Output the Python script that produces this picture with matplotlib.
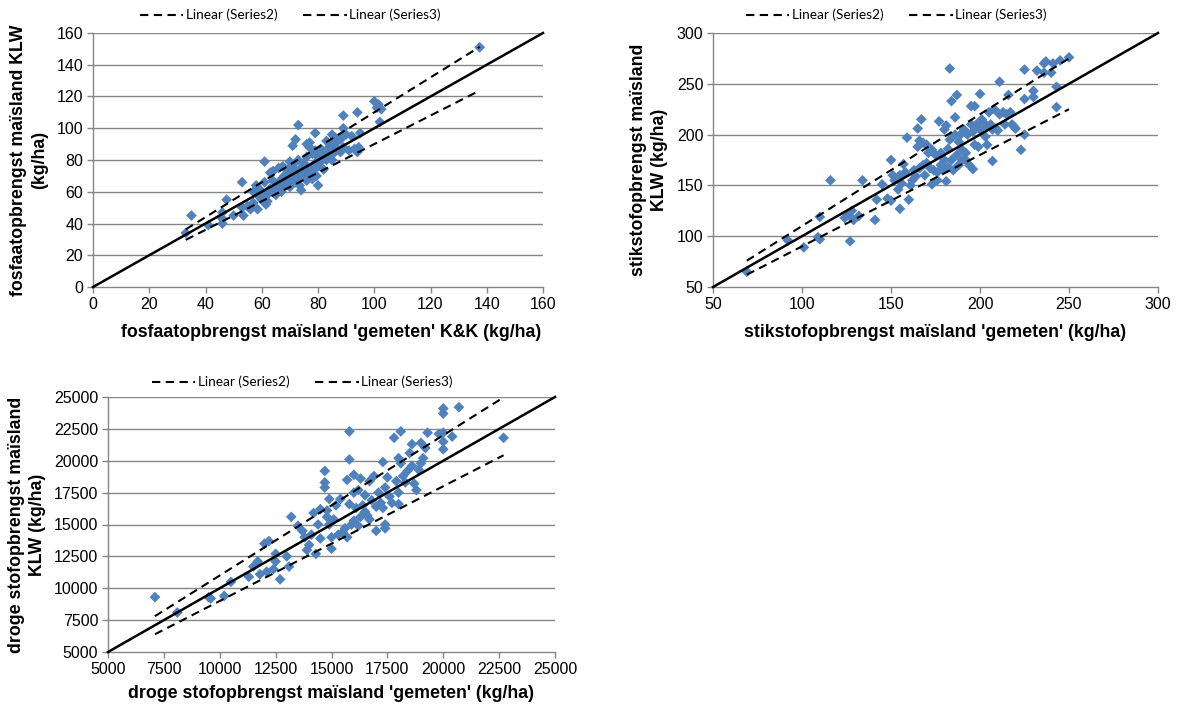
import matplotlib
matplotlib.use("Agg")
import matplotlib.pyplot as plt
from matplotlib.lines import Line2D

# ---------------- data ----------------
p_x = [137.5, 33, 35, 41, 46, 46, 46, 47.5, 50, 53, 53.5, 53, 55, 56, 57, 57, 58, 58.5, 59, 59, 60, 60,
       61, 61, 61.5, 62, 62, 63, 63, 64, 64, 64, 65, 65, 66, 66, 67, 67, 67, 67.5, 68, 68, 69, 69, 70, 70, 70,
       70.5, 71, 71, 71, 72, 72, 72, 72.5, 73, 73, 73, 73.5, 74, 74, 75, 75, 75, 76, 76, 76, 76, 77, 77, 77, 77,
       78, 78, 78, 79, 79, 79, 79.5, 80, 80, 80, 81, 81, 82, 82, 83, 83, 84, 84, 85, 85, 85, 86, 86, 87, 87, 88,
       88, 89, 89, 89, 90, 91, 92, 93, 94, 94, 94.5, 95, 100, 101, 101.5, 102, 102.5]
p_y = [151, 34, 45, 39, 47, 40, 43, 55, 45, 66, 45, 50, 51, 49, 53, 60, 64, 49, 62, 57, 55, 60,
       79, 66, 52, 54, 58, 62, 72, 73, 67, 60, 58, 63, 75, 65, 60, 62, 68, 76, 64, 70, 66, 74, 79, 72, 63,
       67, 89, 77, 70, 93, 74, 66, 71, 102, 80, 68, 64, 61, 75, 78, 73, 70, 90, 82, 67, 71, 91, 88, 75, 72,
       84, 73, 68, 97, 86, 78, 70, 64, 82, 76, 87, 79, 85, 74, 92, 80, 88, 83, 96, 90, 80, 85, 94, 87, 92, 85,
       93, 108, 100, 88, 96, 86, 95, 87, 110, 85, 88, 97, 117, 113, 115, 104, 112]

n_x = [69, 92, 101, 109, 110, 110, 116, 124, 126, 127, 128, 129, 132, 134, 141, 142, 145, 148, 150, 150,
       151, 152, 154, 155, 155, 156, 157, 158, 159, 160, 161, 162, 163, 164, 165, 165, 166, 166, 167, 168,
       168, 169, 170, 170, 171, 172, 173, 173, 174, 175, 176, 176, 177, 178, 178, 179, 180, 180, 181, 181,
       182, 182, 183, 183, 184, 184, 185, 186, 186, 187, 187, 188, 188, 189, 190, 190, 191, 192, 192, 193,
       194, 195, 195, 196, 196, 197, 197, 198, 199, 200, 200, 201, 202, 203, 204, 204, 205, 206, 207, 207,
       208, 209, 210, 211, 211, 213, 214, 215, 216, 217, 218, 219, 220, 225, 225, 225, 223, 230, 230, 232,
       236, 236, 237, 240, 241, 243, 243, 245, 250]
n_y = [65, 96, 89, 99, 119, 97, 155, 118, 121, 95, 125, 116, 120, 155, 116, 136, 151, 137, 175, 135,
       160, 155, 146, 127, 160, 152, 171, 163, 197, 136, 150, 155, 165, 159, 206, 188, 194, 167, 215, 170,
       192, 160, 190, 172, 182, 167, 151, 185, 165, 180, 155, 163, 213, 182, 170, 165, 205, 175, 209, 154,
       186, 168, 265, 195, 233, 175, 165, 217, 200, 239, 180, 193, 170, 200, 175, 185, 205, 182, 175, 200,
       170, 228, 210, 166, 203, 228, 190, 210, 188, 240, 205, 215, 212, 198, 208, 190, 222, 210, 174, 205,
       225, 206, 204, 252, 220, 222, 210, 220, 239, 222, 210, 208, 206, 264, 235, 200, 185, 243, 237, 263,
       270, 261, 272, 261, 270, 247, 227, 273, 276]

d_x = [7100, 8100, 9500, 9600, 10200, 10500, 11300, 11500, 11700, 11800, 12000, 12100, 12200, 12400, 12500,
       12500, 12700, 13000, 13100, 13200, 13500, 13700, 13800, 13900, 14000, 14100, 14200, 14300, 14400,
       14500, 14500, 14700, 14700, 14700, 14800, 14800, 14900, 14900, 15000, 15000, 15100, 15200, 15300,
       15400, 15500, 15600, 15700, 15700, 15800, 15800, 15800, 15900, 16000, 16000, 16000, 16100, 16200,
       16200, 16300, 16300, 16400, 16500, 16500, 16600, 16700, 16700, 16800, 16900, 17000, 17000, 17100,
       17200, 17300, 17300, 17400, 17400, 17400, 17500, 17600, 17700, 17800, 17900, 18000, 18000, 18000,
       18100, 18100, 18200, 18300, 18400, 18500, 18600, 18600, 18700, 18800, 18900, 19000, 19000, 19100,
       19200, 19300, 19800, 20000, 20000, 20000, 20000, 20000, 20400, 20700, 22700]
d_y = [9300, 8100, 9300, 9200, 9400, 10500, 10900, 11700, 12100, 11100, 13500, 11300, 13700, 11500, 12700,
       12100, 10700, 12500, 11700, 15600, 14900, 14500, 14000, 13000, 13400, 14200, 15900, 12700, 15000,
       13900, 16200, 18300, 19200, 17900, 15600, 16100, 17000, 15000, 13100, 14000, 15400, 16500, 14200,
       17000, 14400, 14700, 18500, 14000, 22300, 20100, 16600, 15000, 18900, 17500, 15300, 16300, 14900,
       17700, 18600, 15600, 16500, 17300, 16000, 15700, 15400, 18400, 16900, 18800, 14500, 16400, 17500,
       16700, 19900, 16300, 17900, 14700, 15000, 18700, 17200, 16700, 21800, 18400, 20200, 16600, 17500,
       22300, 19800, 18800, 18300, 19200, 20600, 21300, 19600, 18200, 17700, 19300, 21400, 19800, 20200,
       21000, 22200, 22100, 24100, 23700, 22200, 21500, 20900, 21900, 24200, 21800]

# hidden helper series (Series2 / Series3) factors relative to 'gemeten'
band_factors = [1.1, 0.9]
legend_labels = ["Linear (Series2)", "Linear (Series3)"]

panels = [
    dict(x=p_x, y=p_y, lim=(0, 160), step=20,
         xlabel="fosfaatopbrengst maïsland 'gemeten' K&K (kg/ha)",
         ylabel="fosfaatopbrengst maïsland KLW\n(kg/ha)",
         rect=(93, 33, 543, 287), leg=(290, 15), xpad=9, xlab_center=0.53),
    dict(x=n_x, y=n_y, lim=(50, 300), step=50,
         xlabel="stikstofopbrengst maïsland 'gemeten' (kg/ha)",
         ylabel="stikstofopbrengst maïsland\nKLW (kg/ha)",
         rect=(713, 33, 1158, 287), leg=(896, 15), xpad=9, xlab_center=0.5),
    dict(x=d_x, y=d_y, lim=(5000, 25000), step=2500,
         xlabel="droge stofopbrengst maïsland 'gemeten' (kg/ha)",
         ylabel="droge stofopbrengst maïsland\nKLW (kg/ha)",
         rect=(108, 397, 555, 652), leg=(302, 382), xpad=6, xlab_center=0.5),
]

W, H = 1180, 706
fig = plt.figure(figsize=(W / 100, H / 100), dpi=100)
tick_font = ["Liberation Sans", "DejaVu Sans"]
gray = "#868686"
blue = "#4F81BD"
dash = (4, 2.6)

for pn in panels:
    l, t, r, b = pn["rect"]
    ax = fig.add_axes([l / W, 1 - b / H, (r - l) / W, (b - t) / H])
    lo, hi = pn["lim"]
    ticks = list(range(lo, hi + 1, pn["step"]))
    ax.set_xlim(lo, hi)
    ax.set_ylim(lo, hi)
    ax.set_xticks(ticks)
    ax.set_yticks(ticks)
    for tk in ticks:
        if tk != lo:
            ax.axhline(tk, color=gray, lw=1.0, zorder=0)
    for s in ("top", "right"):
        ax.spines[s].set_visible(False)
    for s in ("left", "bottom"):
        ax.spines[s].set_color(gray)
        ax.spines[s].set_linewidth(1.0)
    ax.tick_params(direction="out", length=4, color=gray, width=1.0, labelsize=11.5, pad=3)
    for lab in ax.get_xticklabels() + ax.get_yticklabels():
        lab.set_family(tick_font)
    ax.patch.set_alpha(0)

    ax.scatter(pn["x"], pn["y"], marker="D", s=30, color=blue, edgecolors="none", zorder=3, clip_on=False)
    ax.plot([lo, hi], [lo, hi], color="black", lw=1.8, zorder=4, clip_on=False)
    xmin, xmax = min(pn["x"]), max(pn["x"])
    for f in band_factors:
        ax.plot([xmin, xmax], [f * xmin, f * xmax], color="black", lw=1.5,
                dashes=dash, zorder=4)

    ax.set_xlabel(pn["xlabel"], fontsize=12.8, fontweight="bold", family=tick_font, labelpad=pn["xpad"])
    ax.xaxis.label.set_x(pn["xlab_center"])
    ax.set_ylabel(pn["ylabel"], fontsize=12.8, fontweight="bold", family=tick_font, labelpad=6,
                  linespacing=1.3)

    handles = [Line2D([], [], color="black", lw=1.5, dashes=dash) for _ in legend_labels]
    lx, ly = pn["leg"]
    fig.legend(handles, legend_labels, loc="center", bbox_to_anchor=(lx / W, 1 - ly / H),
               ncol=2, frameon=False, prop={"family": ["Lato", "DejaVu Sans"], "size": 9.8},
               handlelength=3.2, handletextpad=0.15, columnspacing=1.9, borderaxespad=0)

fig.savefig("out.png", dpi=100)
